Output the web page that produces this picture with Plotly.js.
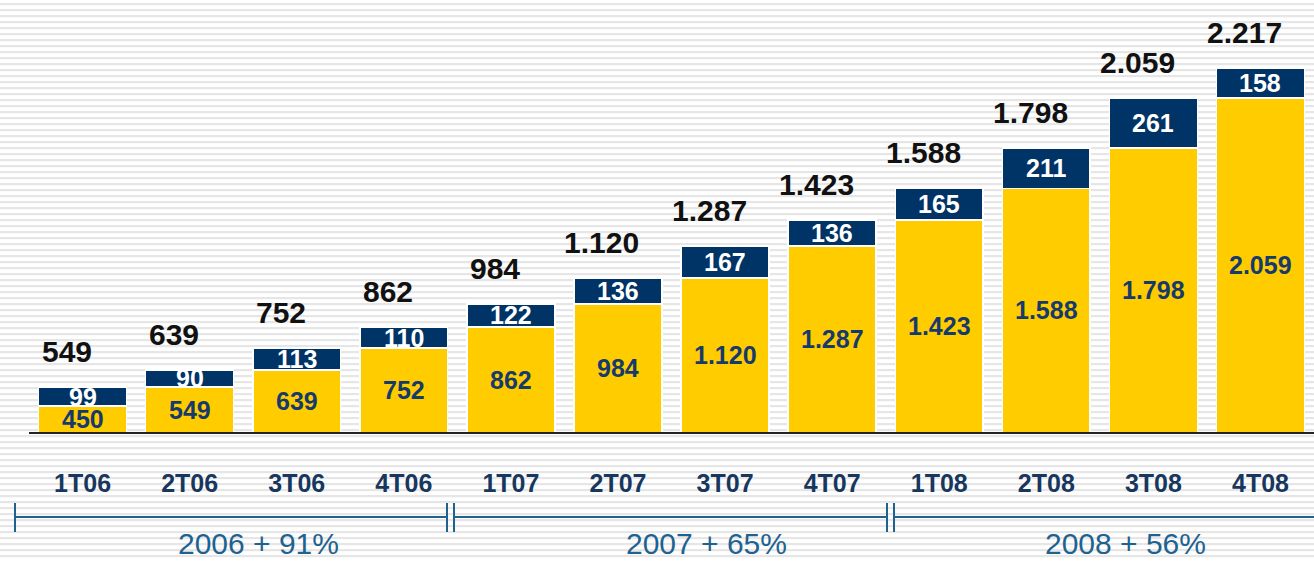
<!DOCTYPE html>
<html>
<head>
<meta charset="utf-8">
<script src="https://cdn.plot.ly/plotly-3.0.1.min.js"></script>
<style>
  html, body { margin: 0; padding: 0; }
  body {
    width: 1314px; height: 561px; overflow: hidden;
    background: repeating-linear-gradient(to bottom, #ffffff 0px, #ffffff 3px, #e6e6e6 3px, #e6e6e6 5px, #fafafa 5px, #fafafa 6px);
  }
  #chart { width: 1314px; height: 561px; }
</style>
</head>
<body>
<div id="chart"></div>
<script>
// ---- data ----
const quarters = ["1T06","2T06","3T06","4T06","1T07","2T07","3T07","4T07","1T08","2T08","3T08","4T08"];
const previousTotal = [450, 549, 639, 752, 862, 984, 1120, 1287, 1423, 1588, 1798, 2059];
const increment     = [99, 90, 113, 110, 122, 136, 167, 136, 165, 211, 261, 158];
const totals        = [549, 639, 752, 862, 984, 1120, 1287, 1423, 1588, 1798, 2059, 2217];
const previousLabels  = ["450","549","639","752","862","984","1.120","1.287","1.423","1.588","1.798","2.059"];
const incrementLabels = ["99","90","113","110","122","136","167","136","165","211","261","158"];
const totalLabels     = ["549","639","752","862","984","1.120","1.287","1.423","1.588","1.798","2.059","2.217"];
const yearLabels = ["2006 + 91%", "2007 + 65%", "2008 + 56%"];

// ---- style constants ----
const AXIS_FLOOR = 314;
const AXIS_TOP = 2572;
const YELLOW = "#FFCC00";
const NAVY = "#003366";
const NAVY_TEXT = "#163a6c";
const BRACKET = "#1f6290";
const FONT = "'Liberation Sans', Arial, sans-serif";
const W = 1314, L = 29, PW = W - L;
const px = v => (v - L) / PW;

const traces = [
  {
    type: "bar", x: quarters, y: previousTotal, name: "base",
    marker: { color: YELLOW, line: { color: "#ffffff", width: 1.5 } },
    hoverinfo: "skip"
  },
  {
    type: "bar", x: quarters, y: increment, name: "incremento",
    marker: { color: NAVY, line: { color: "#ffffff", width: 1.5 } },
    hoverinfo: "skip"
  }
];

const annotations = [];
quarters.forEach((q, i) => {
  annotations.push({
    x: q, y: (AXIS_FLOOR + previousTotal[i]) / 2, xref: "x", yref: "y",
    text: previousLabels[i], showarrow: false,
    font: { family: FONT, size: 25, color: NAVY_TEXT, weight: "bold" }
  });
  annotations.push({
    x: q, y: previousTotal[i] + increment[i] / 2, xref: "x", yref: "y",
    text: incrementLabels[i], showarrow: false,
    font: { family: FONT, size: 25, color: "#ffffff", weight: "bold" }
  });
  annotations.push({
    x: q, y: totals[i], xref: "x", yref: "y", yanchor: "bottom",
    text: totalLabels[i], showarrow: false, xshift: -16, yshift: 17,
    font: { family: FONT, size: 30, color: "#111111", weight: "bold" }
  });
});

// year brackets
const yearCenters = [258, 706, 1125];
yearLabels.forEach((t, k) => {
  annotations.push({
    x: px(yearCenters[k]), xref: "paper", xanchor: "center",
    y: -0.258, yref: "paper", yanchor: "middle",
    text: t, showarrow: false,
    font: { family: FONT, size: 30, color: BRACKET }
  });
});

const segs = [[15, 447], [454, 887], [894, 1330]];
const shapes = [];
const yLine = (432 - 517) / 432;
const yTop = (432 - 503) / 432, yBot = (432 - 532) / 432;
segs.forEach(s => {
  shapes.push({ type: "line", xref: "paper", yref: "paper", x0: px(s[0]), x1: px(s[1]), y0: yLine, y1: yLine, line: { color: BRACKET, width: 2 } });
  shapes.push({ type: "line", xref: "paper", yref: "paper", x0: px(s[0]), x1: px(s[0]), y0: yTop, y1: yBot, line: { color: BRACKET, width: 2 } });
  shapes.push({ type: "line", xref: "paper", yref: "paper", x0: px(s[1]), x1: px(s[1]), y0: yTop, y1: yBot, line: { color: BRACKET, width: 2 } });
});

const layout = {
  width: 1314, height: 561,
  margin: { l: L, r: 0, t: 0, b: 129, pad: 0 },
  paper_bgcolor: "rgba(0,0,0,0)",
  plot_bgcolor: "rgba(0,0,0,0)",
  barmode: "stack",
  bargap: 0.18,
  showlegend: false,
  xaxis: {
    type: "category", showgrid: false, zeroline: false,
    showline: true, linecolor: "#222222", linewidth: 2,
    ticks: "outside", ticklen: 28, tickcolor: "rgba(0,0,0,0)",
    tickfont: { family: FONT, size: 25, color: "#17375e", weight: "bold" },
    fixedrange: true
  },
  yaxis: {
    range: [AXIS_FLOOR, AXIS_TOP], visible: false, showgrid: false, zeroline: false, fixedrange: true
  },
  annotations: annotations,
  shapes: shapes
};

Plotly.newPlot("chart", traces, layout, { displayModeBar: false, staticPlot: true });
</script>
</body>
</html>
